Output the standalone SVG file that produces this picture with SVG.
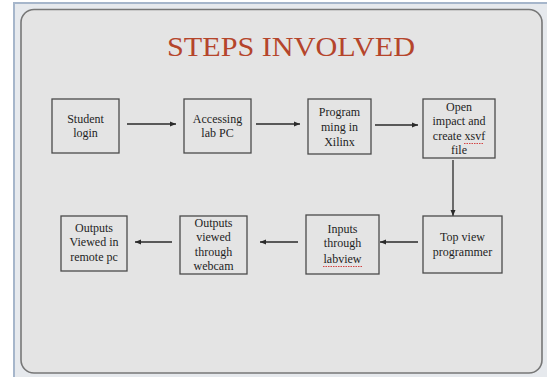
<svg xmlns="http://www.w3.org/2000/svg" width="547" height="377" viewBox="0 0 547 377">
<style>
.box{fill:#e4e4e4;stroke:#4a4a4a;stroke-width:1.3}
.t{font-family:"Liberation Serif","Times New Roman",serif;font-size:12px;fill:#1e1e1e;text-anchor:middle}
.c{stroke:#2a2a2a;stroke-width:1.3;fill:none;marker-end:url(#ah)}
.sq{stroke:#d03030;stroke-width:0.9;fill:none;stroke-dasharray:1.5 1}
</style>
<defs>
<marker id="ah" markerUnits="userSpaceOnUse" markerWidth="7" markerHeight="6" refX="6" refY="3" orient="auto">
<path d="M0,0.5 L6,3 L0,5.5 z" fill="#2a2a2a"/>
</marker>
</defs>
<rect x="0" y="0" width="547" height="377" fill="#ffffff"/>
<rect x="14" y="3" width="540" height="380" fill="#e6e9ed" stroke="#a6b6cb" stroke-width="2"/>
<rect x="21" y="9.5" width="521" height="363.5" rx="13" fill="#e4e4e4" stroke="#777777" stroke-width="1.6"/>
<text x="291" y="56" font-family="'Liberation Serif','Times New Roman',serif" font-size="27" fill="#b5452b" text-anchor="middle" textLength="248" lengthAdjust="spacingAndGlyphs">STEPS INVOLVED</text>

<g id="connectors">
<line class="c" x1="127" y1="124" x2="176" y2="124"/>
<line class="c" x1="256" y1="124" x2="300" y2="124"/>
<line class="c" x1="375" y1="125" x2="418" y2="125"/>
<line class="c" x1="453" y1="160" x2="453" y2="216"/>
<line class="c" x1="418" y1="242" x2="380" y2="242"/>
<line class="c" x1="298" y1="242" x2="260" y2="242"/>
<line class="c" x1="172" y1="242" x2="135" y2="242"/>
</g>

<g id="student-login">
<rect class="box" x="52" y="99" width="67" height="54"/>
<text class="t" x="85.5" y="123">Student</text>
<text class="t" x="85.5" y="137">login</text>
</g>
<g id="accessing-lab-pc">
<rect class="box" x="184" y="99" width="67" height="54"/>
<text class="t" x="217.5" y="123">Accessing</text>
<text class="t" x="217.5" y="137">lab PC</text>
</g>
<g id="programming-xilinx">
<rect class="box" x="308" y="99" width="63" height="55"/>
<text class="t" x="339.5" y="116">Program</text>
<text class="t" x="339.5" y="131">ming in</text>
<text class="t" x="339.5" y="146">Xilinx</text>
</g>
<g id="open-impact">
<rect class="box" x="423" y="99" width="72" height="59"/>
<text class="t" x="459" y="111">Open</text>
<text class="t" x="459" y="125">impact and</text>
<text class="t" x="459" y="140">create xsvf</text>
<text class="t" x="459" y="154">file</text>
<path class="sq" d="M464,143.5 L484,143.5"/>
</g>
<g id="top-view-programmer">
<rect class="box" x="423" y="216" width="79" height="57"/>
<text class="t" x="462.5" y="241">Top view</text>
<text class="t" x="462.5" y="256">programmer</text>
</g>
<g id="inputs-labview">
<rect class="box" x="306" y="215" width="73" height="59"/>
<text class="t" x="342.5" y="233">Inputs</text>
<text class="t" x="342.5" y="247">through</text>
<text class="t" x="342.5" y="263">labview</text>
<path class="sq" d="M323,266.5 L363,266.5"/>
</g>
<g id="outputs-webcam">
<rect class="box" x="180" y="216" width="67" height="58"/>
<text class="t" x="213.5" y="227">Outputs</text>
<text class="t" x="213.5" y="241">viewed</text>
<text class="t" x="213.5" y="256">through</text>
<text class="t" x="213.5" y="270">webcam</text>
</g>
<g id="outputs-remote">
<rect class="box" x="61" y="216" width="66" height="55"/>
<text class="t" x="94" y="232">Outputs</text>
<text class="t" x="94" y="246">Viewed in</text>
<text class="t" x="94" y="261">remote pc</text>
</g>
</svg>
